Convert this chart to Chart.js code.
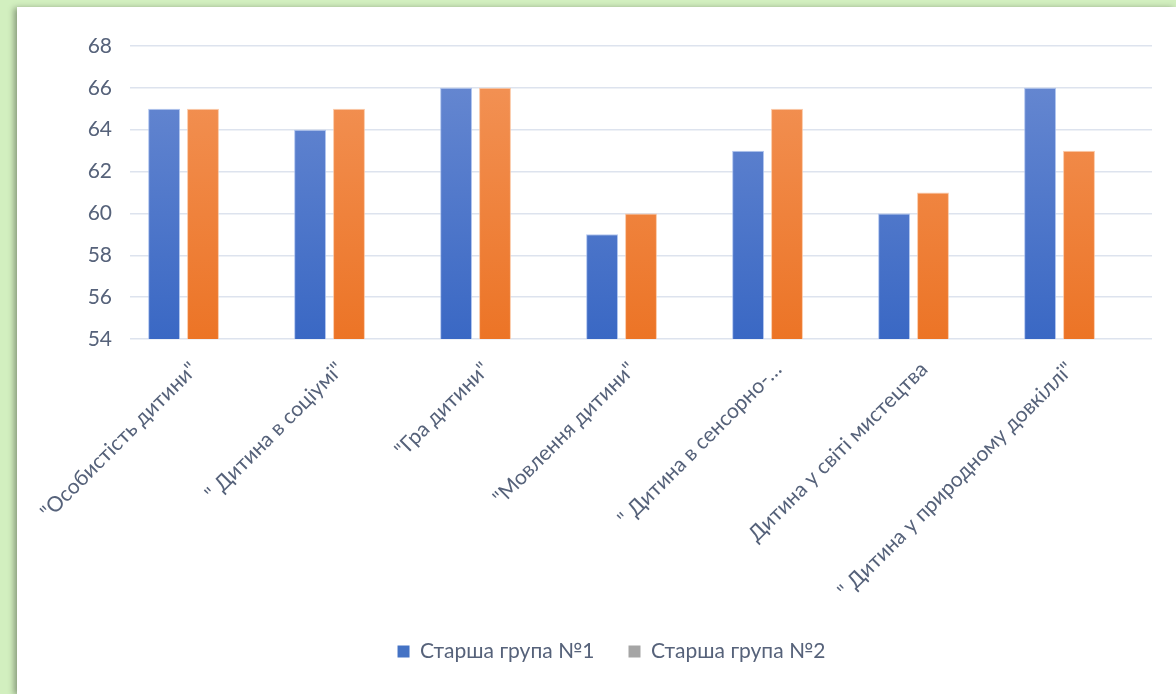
<!DOCTYPE html>
<html>
<head>
<meta charset="utf-8">
<script src="https://cdn.jsdelivr.net/npm/chart.js@4/dist/chart.umd.min.js"></script>
<style>
  html, body { margin:0; padding:0; width:1176px; height:694px; overflow:hidden; background:#d2efbf; }
  #panel { position:absolute; left:17px; top:7px; width:1159px; height:687px; background:#ffffff; box-shadow:-3px 1px 6px rgba(0,0,0,0.35); }
  #wrap { position:absolute; left:0; top:0; width:1176px; height:694px; }
</style>
</head>
<body>
<div id="panel"></div>
<div id="wrap"><canvas id="c" width="1176" height="694"></canvas></div>
<script>
const categories = ['"Особистість дитини"', '" Дитина в соціумі"', '"Гра дитини"', '"Мовлення дитини"', '" Дитина в сенсорно-…', 'Дитина у світі мистецтва', '" Дитина у природному довкіллі"'];
const group1 = [65, 64, 66, 59, 63, 60, 66];
const series2 = [65, 65, 66, 60, 65, 61, 63];
const group2 = [null, null, null, null, null, null, null];
const seriesNames = ['Старша група №1', '', 'Старша група №2'];
const yMin = 54, yMax = 68, yStep = 2;

const textColor = '#56627a';
function grad(ctx, top, bottom) {
  const ca = ctx.chart.chartArea;
  if (!ca) return bottom;
  const g = ctx.chart.ctx.createLinearGradient(0, ca.top, 0, ca.bottom);
  g.addColorStop(0, top);
  g.addColorStop(1, bottom);
  return g;
}
const barOpts = { categoryPercentage: 0.8, barPercentage: 0.82, borderWidth: 1 };

const legendShift = {
  id: 'legendShift',
  afterLayout(chart) {
    const l = chart.legend;
    if (l) { l.left += 27; l.right += 27; }
  }
};

new Chart(document.getElementById('c'), {
  type: 'bar',
  plugins: [legendShift],
  data: {
    labels: categories,
    datasets: [
      Object.assign({ label: seriesNames[0], data: group1,
        backgroundColor: c => grad(c, '#6b8bd2', '#3a68c4'),
        borderColor: 'rgba(160,185,235,0.8)' }, barOpts),
      Object.assign({ label: seriesNames[1], data: series2,
        backgroundColor: c => grad(c, '#f3955a', '#ec7426'),
        borderColor: 'rgba(250,190,150,0.8)' }, barOpts),
      Object.assign({ label: seriesNames[2], data: group2,
        backgroundColor: '#a5a5a5', borderColor: '#a5a5a5' }, barOpts)
    ]
  },
  options: {
    responsive: false,
    animation: false,
    devicePixelRatio: 1,
    layout: { padding: { left: 17, right: 24, top: 46, bottom: 22 } },
    plugins: {
      tooltip: { enabled: false },
      legend: {
        position: 'bottom',
        labels: {
          color: textColor,
          font: { family: 'Lato', size: 21 },
          boxWidth: 12, boxHeight: 12, padding: 34,
          filter: item => item.text !== '',
          generateLabels: chart => chart.data.datasets.map((d, i) => ({
            text: d.label, fillStyle: i === 0 ? '#4472c4' : '#a5a5a5',
            strokeStyle: i === 0 ? '#4472c4' : '#a5a5a5', lineWidth: 0,
            fontColor: textColor, datasetIndex: i, hidden: false
          }))
        }
      }
    },
    scales: {
      x: {
        grid: { display: false, drawTicks: false },
        border: { display: false },
        ticks: { color: textColor, font: { family: 'Lato', size: 21 }, maxRotation: 45, minRotation: 45, autoSkip: false, padding: 18, labelOffset: -9 },
        afterFit: s => { s.height = 268; }
      },
      y: {
        min: yMin, max: yMax,
        grid: { color: '#dde3ee', lineWidth: 1.5, drawTicks: false },
        border: { display: false },
        ticks: { stepSize: yStep, color: textColor, font: { family: 'Lato', size: 21 }, padding: 18 },
        afterFit: s => { s.width = 113; }
      }
    }
  }
});
</script>
</body>
</html>
